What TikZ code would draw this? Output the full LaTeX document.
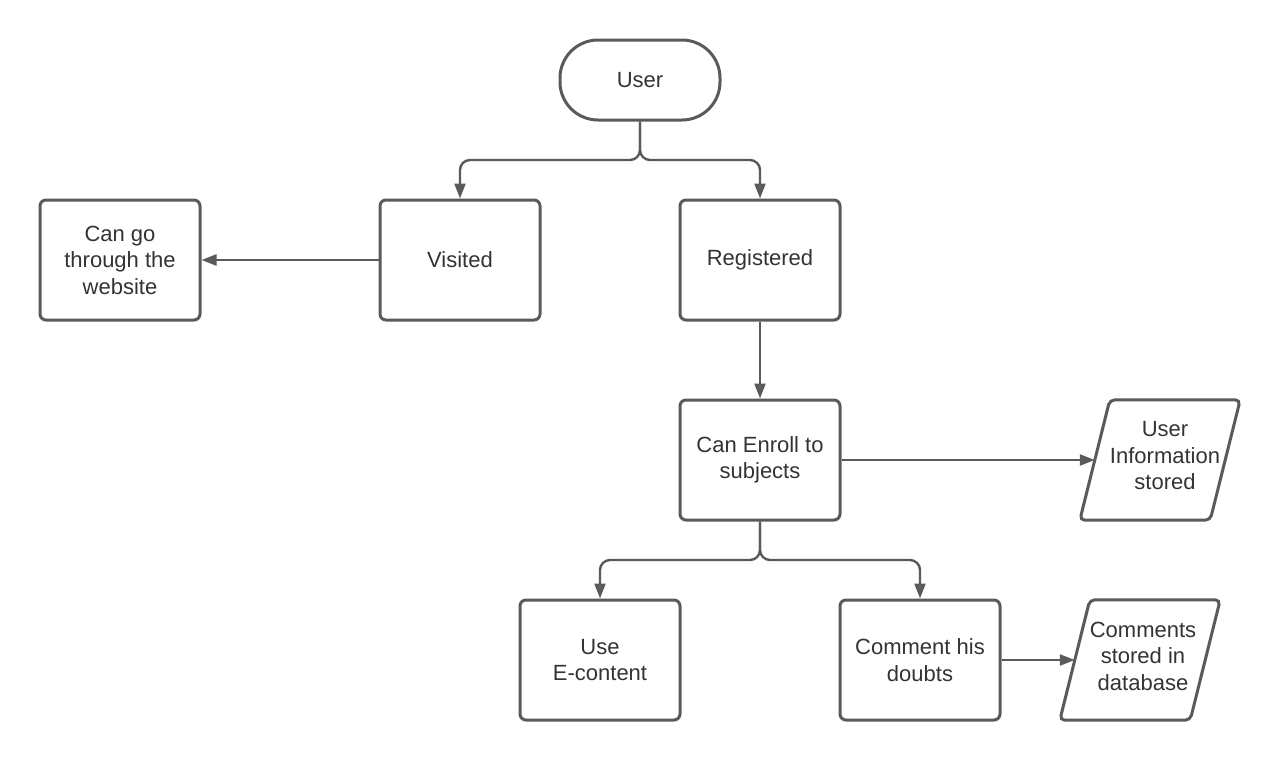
\documentclass[tikz,border=0pt]{standalone}
\usepackage{fontspec}
\setmainfont{Liberation Sans}
\usetikzlibrary{arrows.meta}
\definecolor{lc}{HTML}{5A5A5A}
\definecolor{tc}{HTML}{333333}
\begin{document}
\begin{tikzpicture}[x=1pt,y=-1pt,
  every node/.style={font=\fontsize{22}{26.5}\selectfont, text=tc, align=center},
  box/.style={draw=lc, line width=3pt, rounded corners=6pt, minimum width=160pt, minimum height=120pt, inner sep=2pt},
  term/.style={draw=lc, line width=3pt, rounded corners=38pt, minimum width=160pt, minimum height=80pt},
  para/.style={minimum width=160pt, minimum height=120pt, inner sep=0pt},
  ptext/.style={inner sep=0pt},
  pline/.style={draw=lc, line width=3pt, rounded corners=5pt},
  conn/.style={draw=lc, line width=2.4pt, rounded corners=10pt, -{Triangle[length=15pt,width=11pt]}}
]
\useasboundingbox (0,0) rectangle (1280,761);
\node[term] (user) at (640,80) {User};
\node[box] (visited) at (460,260) {Visited};
\node[box] (reg) at (760,260) {Registered};
\node[box] (web) at (120,260) {Can go\\through the\\website};
\node[box] (enroll) at (760,460) {Can Enroll to\\subjects};
\node[para] (ui) at (1160,460) {};
\node[ptext] (uit) at (1165,456) {User\\Information\\stored};
\node[box] (econ) at (600,660) {Use\\E-content};
\node[box] (comm) at (920,660) {Comment his\\doubts};
\node[para] (cs) at (1140,660) {};
\node[ptext] (cst) at (1143,656) {Comments\\stored in\\database};
\draw[pline] ([xshift=30pt]ui.north west) -- (ui.north east) -- ([xshift=-30pt]ui.south east) -- (ui.south west) -- cycle;
\draw[pline] ([xshift=30pt]cs.north west) -- (cs.north east) -- ([xshift=-30pt]cs.south east) -- (cs.south west) -- cycle;
\coordinate (j1) at (640,160);
\coordinate (j2) at (760,560);
\draw[conn] (user.south) -- (j1) -| (visited.north);
\draw[conn] (user.south) -- (j1) -| (reg.north);
\draw[conn] (visited.west) -- (web.east);
\draw[conn] (reg.south) -- (enroll.north);
\draw[conn] (enroll.east) -- ([xshift=15pt]ui.west);
\draw[conn] (enroll.south) -- (j2) -| (econ.north);
\draw[conn] (enroll.south) -- (j2) -| (comm.north);
\draw[conn] (comm.east) -- ([xshift=15pt]cs.west);
\end{tikzpicture}
\end{document}
